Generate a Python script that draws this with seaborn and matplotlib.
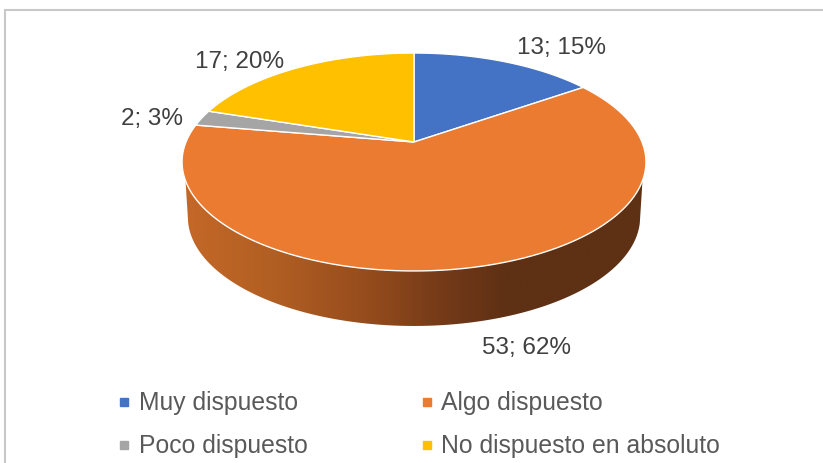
import numpy as np
import matplotlib
matplotlib.use("Agg")
import matplotlib.pyplot as plt
from matplotlib.lines import Line2D
from matplotlib.patches import Polygon
from matplotlib.colors import LinearSegmentedColormap
import seaborn as sns

# data
categories = ["Muy dispuesto", "Algo dispuesto", "Poco dispuesto", "No dispuesto en absoluto"]
values = [13, 53, 2, 17]
slice_labels = ["13; 15%", "53; 62%", "2; 3%", "17; 20%"]
slice_colors = ["#4472C4", "#EA7B30", "#A5A5A5", "#FFC000"]

sns.set_theme(style="white")
plt.rcParams["font.family"] = ["Liberation Sans", "DejaVu Sans"]

palette = sns.color_palette(slice_colors)

fig = plt.figure(figsize=(8.23, 4.63), dpi=100)
ax = fig.add_axes([0, 0, 1, 1])
ax.set_xlim(0, 823)
ax.set_ylim(463, 0)
ax.axis("off")

# chart border, only top and left are inside the crop
ax.plot([5, 5, 823], [463, 10, 10], color="#C8C8C8", lw=1.5, solid_joinstyle="miter")

# perspective of the pie top
cx, cy = 414, 142
persp = 0.1835
kx, ky = 228, 105.3


def project(angle, sx=1.0, dy=0.0):
    x = np.sin(angle)
    y = np.cos(angle)
    d = 1 + persp * y
    return cx + sx * kx * x / d, cy - ky * y / d + dy


# side wall with the horizontal gradient
t = np.linspace(0, 2 * np.pi, 720)
xt, yt = project(t)
xb, yb = project(t, sx=0.975, dy=55)
top_idx = np.where(yt >= 180)[0]
low_idx = np.where(yb >= 222)[0]
wall = np.column_stack([
    np.r_[xt[top_idx], xb[low_idx][::-1]],
    np.r_[yt[top_idx], yb[low_idx][::-1]],
])
wall_cmap = LinearSegmentedColormap.from_list("wall", [
    (0.0, "#C46828"),
    (0.19, "#B25F23"),
    (0.41, "#944B1C"),
    (0.54, "#783C19"),
    (0.70, "#5E3014"),
    (1.0, "#5E3014"),
])
grad = ax.imshow(np.linspace(0, 1, 256).reshape(1, -1), cmap=wall_cmap, extent=(183, 645, 330, 170),
                 aspect="auto", zorder=2)
grad.set_clip_path(Polygon(wall, closed=True, transform=ax.transData))
ax.set_xlim(0, 823)
ax.set_ylim(463, 0)

# slices, clockwise from twelve o'clock
edges = np.r_[0, np.cumsum(values)] / sum(values) * 2 * np.pi
for i, col in enumerate(palette):
    a = np.linspace(edges[i], edges[i + 1], 200)
    px, py = project(a)
    ax.fill(np.r_[cx, px], np.r_[cy, py], facecolor=col, edgecolor="white", lw=1.0, zorder=3)

# data labels
label_pos = [(562, 48), (527, 348), (152, 119), (240, 62)]
for txt, (lx, ly) in zip(slice_labels, label_pos):
    ax.text(lx, ly, txt, ha="center", va="center", fontsize=17.5, color="#404040", zorder=4)

# legend, matplotlib fills by column so swap the middle two
order = [0, 2, 1, 3]
handles = [Line2D([], [], ls="", marker="s", markersize=5.2, color=palette[i]) for i in order]
leg = ax.legend(
    handles,
    [categories[i] for i in order],
    ncol=2,
    frameon=False,
    loc="lower left",
    bbox_to_anchor=(118, 458.5),
    bbox_transform=ax.transData,
    fontsize=17.8,
    labelcolor="#595959",
    handlelength=0.5,
    handletextpad=0.33,
    columnspacing=4.57,
    labelspacing=0.77,
    borderpad=0,
    borderaxespad=0,
)

fig.savefig("out.png", dpi=100)
